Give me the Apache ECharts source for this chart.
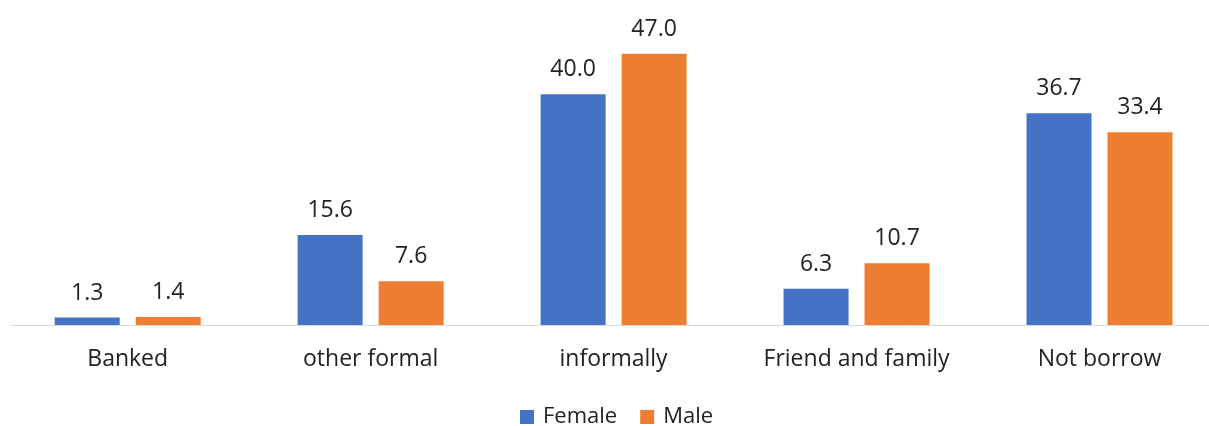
<!DOCTYPE html>
<html>
<head>
<meta charset="utf-8">
<script src="https://cdn.jsdelivr.net/npm/echarts@6/dist/echarts.min.js"></script>
<style>html,body{margin:0;padding:0;background:#fff}#c{width:1209px;height:426px}</style>
</head>
<body>
<div id="c"></div>
<script>
const categories = ["Banked", "other formal", "informally", "Friend and family", "Not borrow"];
const female = [1.3, 15.6, 40.0, 6.3, 36.7];
const male = [1.4, 7.6, 47.0, 10.7, 33.4];
const seriesNames = ["Female", "Male"];

const FONT = "'Open Sans', sans-serif";
const chart = echarts.init(document.getElementById('c'), null, {renderer: 'canvas'});
const labelCfg = {
  show: true, position: 'top', distance: 13,
  formatter: p => p.value.toFixed(1),
  color: '#222', fontSize: 23, fontFamily: FONT
};
chart.setOption({
  animation: false,
  textStyle: {fontFamily: FONT},
  grid: [
    {left: 127.7, width: 971.8, top: 36.5, bottom: 101, containLabel: false},
    {left: 10, right: 0, top: 36.5, bottom: 101, containLabel: false}
  ],
  legend: {
    data: seriesNames, left: 515, top: 401,
    itemWidth: 14, itemHeight: 14, itemGap: 23, icon: 'rect',
    textStyle: {fontSize: 22, color: '#222', fontFamily: FONT, padding: [0, 0, 0, 4]}
  },
  xAxis: [
    {
      type: 'category', data: categories, gridIndex: 0, boundaryGap: false,
      axisLine: {show: false},
      axisTick: {show: false},
      axisLabel: {color: '#222', fontSize: 23, fontFamily: FONT, margin: 23}
    },
    {
      type: 'category', data: categories, gridIndex: 1,
      axisLine: {show: true, lineStyle: {color: '#d9d9d9', width: 1}},
      axisTick: {show: false}, axisLabel: {show: false}
    }
  ],
  yAxis: [
    {type: 'value', min: 0, max: 50, show: false, splitLine: {show: false}, gridIndex: 0},
    {type: 'value', min: 0, max: 50, show: false, splitLine: {show: false}, gridIndex: 1}
  ],
  series: [
    {name: seriesNames[0], type: 'bar', data: female, barWidth: 65, barGap: '24.6%',
     itemStyle: {color: '#4472C4'}, label: labelCfg},
    {name: seriesNames[1], type: 'bar', data: male, barWidth: 65, barGap: '24.6%',
     itemStyle: {color: '#ED7D31'}, label: labelCfg}
  ]
});
</script>
</body>
</html>
